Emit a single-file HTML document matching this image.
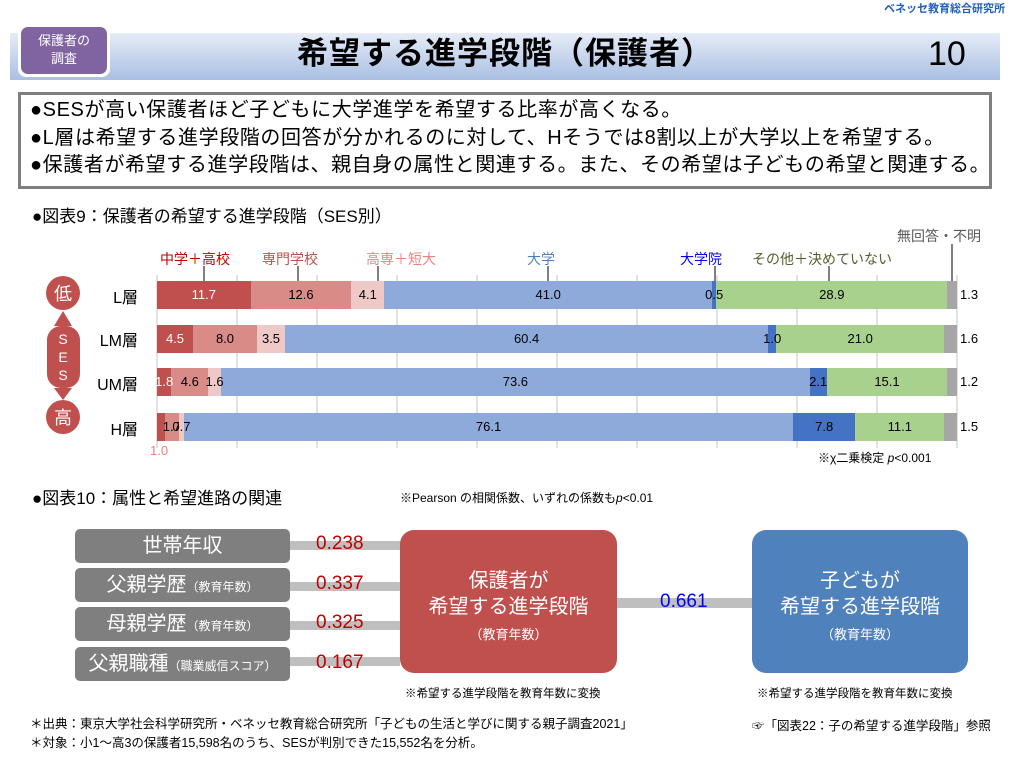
<!DOCTYPE html>
<html><head><meta charset="utf-8"><style>
*{margin:0;padding:0;box-sizing:border-box}
body{width:1010px;height:758px;background:#fff;position:relative;overflow:hidden;font-family:"Liberation Sans","Noto Sans CJK JP",sans-serif;color:#000}
.a{position:absolute;white-space:nowrap}
.seg{position:absolute;top:0;height:100%;font-size:13px;line-height:28px;text-align:center;overflow:visible;white-space:nowrap;display:flex;justify-content:center}
.z{z-index:3}
.row{position:absolute;left:157px;height:28px;width:800px}
.gb{position:absolute;left:75px;width:215px;height:34px;background:#7f7f7f;border-radius:5px;color:#fff;font-size:20px;line-height:34px;text-align:center}
.gb small{font-size:12px}
.ln{position:absolute;left:290px;width:110px;height:9px;background:#bfbfbf}
.v{position:absolute;left:316px;color:#c00000;font-size:19px}
</style></head><body>
<div class="a" style="right:5px;top:0;font-size:11px;color:#1f5fbf;font-weight:bold">ベネッセ教育総合研究所</div>
<div class="a" style="left:10px;top:33px;width:990px;height:47px;background:linear-gradient(#e6ecf7,#a9bfe3)"></div>
<div class="a" style="left:18px;top:24px;width:92px;height:53px;background:#fff;border-radius:8px"></div>
<div class="a" style="left:21px;top:27px;width:86px;height:47px;background:#8064a2;border-radius:7px;color:#fff;font-size:13px;text-align:center;line-height:18px;padding-top:5px;white-space:normal">保護者の<br>調査</div>
<div class="a" style="left:240px;top:33px;width:530px;text-align:center;font-size:31px;font-weight:bold;line-height:42px;letter-spacing:1px">希望する進学段階（保護者）</div>
<div class="a" style="left:928px;top:33px;font-size:34px;line-height:42px">10</div>
<div class="a" style="left:18px;top:92px;width:974px;height:97px;border:3px solid #7f7f7f"></div>
<div class="a" style="left:30px;top:97px;font-size:20px;line-height:27.5px;letter-spacing:0.6px">●SESが高い保護者ほど子どもに大学進学を希望する比率が高くなる。<br>●L層は希望する進学段階の回答が分かれるのに対して、Hそうでは8割以上が大学以上を希望する。<br>●保護者が希望する進学段階は、親自身の属性と関連する。また、その希望は子どもの希望と関連する。</div>
<div class="a" style="left:32px;top:202px;font-size:17px">●図表9：保護者の希望する進学段階（SES別）</div>
<svg class="a" style="left:0;top:0" width="1010" height="470">
<g stroke="#d9d9d9" stroke-width="1.5">
<line x1="157" y1="275" x2="157" y2="448"/><line x1="237" y1="275" x2="237" y2="448"/><line x1="317" y1="275" x2="317" y2="448"/><line x1="397" y1="275" x2="397" y2="448"/><line x1="477" y1="275" x2="477" y2="448"/><line x1="557" y1="275" x2="557" y2="448"/><line x1="637" y1="275" x2="637" y2="448"/><line x1="717" y1="275" x2="717" y2="448"/><line x1="797" y1="275" x2="797" y2="448"/><line x1="877" y1="275" x2="877" y2="448"/><line x1="957" y1="275" x2="957" y2="448"/>
</g>
<g stroke="#000" stroke-width="1">
<line x1="204" y1="266" x2="204" y2="281"/><line x1="298" y1="266" x2="298" y2="281"/><line x1="378" y1="266" x2="378" y2="281"/><line x1="548" y1="266" x2="548" y2="281"/><line x1="715" y1="266" x2="715" y2="281"/><line x1="829" y1="266" x2="829" y2="281"/><line x1="952" y1="244" x2="952" y2="281"/>
</g>
<circle cx="63" cy="293" r="17" fill="#c0504d"/><circle cx="63" cy="417" r="17" fill="#c0504d"/>
<rect x="47" y="326" width="33" height="62" rx="14" fill="#c0504d"/>
<polygon points="63,311 54,326 72,326" fill="#c0504d"/><polygon points="63,400 54,388 72,388" fill="#c0504d"/>
<text x="63" y="300" fill="#fff" font-size="18" text-anchor="middle" font-family="Noto Sans CJK JP">低</text>
<text x="63" y="424" fill="#fff" font-size="18" text-anchor="middle" font-family="Noto Sans CJK JP">高</text>
<text x="63" y="344" fill="#fff" font-size="14" text-anchor="middle">S</text><text x="63" y="362" fill="#fff" font-size="14" text-anchor="middle">E</text><text x="63" y="380" fill="#fff" font-size="14" text-anchor="middle">S</text>
</svg>
<div class="a" style="left:160px;top:249px;font-size:14px;color:#c00000">中学＋高校</div>
<div class="a" style="left:262px;top:249px;font-size:14px;color:#c0504d">専門学校</div>
<div class="a" style="left:366px;top:249px;font-size:14px;color:#f08080">高専＋短大</div>
<div class="a" style="left:527px;top:249px;font-size:14px;color:#4f81bd">大学</div>
<div class="a" style="left:680px;top:249px;font-size:14px;color:#0000ff">大学院</div>
<div class="a" style="left:752px;top:249px;font-size:14px;color:#4f6228">その他＋決めていない</div>
<div class="a" style="left:897px;top:226px;font-size:14px;color:#595959">無回答・不明</div>
<div class="a" style="left:88px;top:284px;font-size:16px;width:50px;text-align:right">L層</div>
<div class="a" style="left:88px;top:327px;font-size:16px;width:50px;text-align:right">LM層</div>
<div class="a" style="left:88px;top:371px;font-size:16px;width:50px;text-align:right">UM層</div>
<div class="a" style="left:88px;top:416px;font-size:16px;width:50px;text-align:right">H層</div>
<div class="row" style="top:281px">
<div class="seg" style="left:0;width:93.6px;background:#c0504d;color:#fff">11.7</div>
<div class="seg" style="left:93.6px;width:100.8px;background:#d98b88">12.6</div>
<div class="seg" style="left:194.4px;width:32.8px;background:#efc9c8">4.1</div>
<div class="seg" style="left:227.2px;width:328px;background:#8eaadb">41.0</div>
<div class="seg" style="left:559.2px;width:231.2px;background:#a9d18e">28.9</div>
<div class="seg z" style="left:555.2px;width:4px;background:#4472c4">0.5</div>
<div class="seg" style="left:790.4px;width:9.6px;background:#a6a6a6"></div>
</div>
<div class="row" style="top:325px">
<div class="seg" style="left:0;width:36px;background:#c0504d;color:#fff">4.5</div>
<div class="seg" style="left:36px;width:64px;background:#d98b88">8.0</div>
<div class="seg" style="left:100px;width:28px;background:#efc9c8">3.5</div>
<div class="seg" style="left:128px;width:483.2px;background:#8eaadb">60.4</div>
<div class="seg" style="left:619.2px;width:168px;background:#a9d18e">21.0</div>
<div class="seg z" style="left:611.2px;width:8px;background:#4472c4">1.0</div>
<div class="seg" style="left:787.2px;width:12.8px;background:#a6a6a6"></div>
</div>
<div class="row" style="top:368px">
<div class="seg" style="left:14.4px;width:36.8px;background:#d98b88">4.6</div>
<div class="seg z" style="left:0;width:14.4px;background:#c0504d;color:#fff">1.8</div>
<div class="seg" style="left:64px;width:588.8px;background:#8eaadb">73.6</div>
<div class="seg z" style="left:51.2px;width:12.8px;background:#efc9c8">1.6</div>
<div class="seg" style="left:652.8px;width:16.8px;background:#4472c4">2.1</div>
<div class="seg" style="left:669.6px;width:120.8px;background:#a9d18e">15.1</div>
<div class="seg" style="left:790.4px;width:9.6px;background:#a6a6a6"></div>
</div>
<div class="row" style="top:413px">
<div class="seg" style="left:0;width:8px;background:#c0504d"></div>
<div class="seg" style="left:27.2px;width:608.8px;background:#8eaadb">76.1</div>
<div class="seg z" style="left:8px;width:13.6px;background:#d98b88">1.7</div>
<div class="seg z" style="left:21.6px;width:5.6px;background:#efc9c8">0.7</div>
<div class="seg" style="left:636px;width:62.4px;background:#4472c4">7.8</div>
<div class="seg" style="left:698.4px;width:88.8px;background:#a9d18e">11.1</div>
<div class="seg" style="left:787.2px;width:12.8px;background:#a6a6a6"></div>
</div>
<div class="a" style="left:960px;top:287px;font-size:13px">1.3</div>
<div class="a" style="left:960px;top:331px;font-size:13px">1.6</div>
<div class="a" style="left:960px;top:374px;font-size:13px">1.2</div>
<div class="a" style="left:960px;top:419px;font-size:13px">1.5</div>
<div class="a" style="left:150px;top:443px;font-size:13px;color:#f08080">1.0</div>
<div class="a" style="left:818px;top:449px;font-size:12px">※χ二乗検定 <i>p</i>&lt;0.001</div>
<div class="a" style="left:32px;top:484px;font-size:17px">●図表10：属性と希望進路の関連</div>
<div class="a" style="left:400px;top:489px;font-size:12px">※Pearson の相関係数、いずれの係数も<i>p</i>&lt;0.01</div>
<div class="ln" style="top:541px"></div><div class="ln" style="top:582px"></div><div class="ln" style="top:621px"></div><div class="ln" style="top:657px"></div>
<div class="gb" style="top:529px">世帯年収</div>
<div class="gb" style="top:568px">父親学歴<small>（教育年数）</small></div>
<div class="gb" style="top:607px">母親学歴<small>（教育年数）</small></div>
<div class="gb" style="top:647px">父親職種<small>（職業威信スコア）</small></div>
<div class="v" style="top:533px">0.238</div><div class="v" style="top:573px">0.337</div><div class="v" style="top:612px">0.325</div><div class="v" style="top:652px">0.167</div>
<div class="a" style="left:610px;top:598px;width:150px;height:10px;background:#bfbfbf"></div>
<div class="a" style="left:660px;top:591px;font-size:19px;color:#0000ff">0.661</div>
<div class="a" style="left:400px;top:530px;width:217px;height:143px;background:#c0504d;border-radius:14px;color:#fff;text-align:center;padding-top:38px;font-size:20px;line-height:26px">保護者が<br>希望する進学段階<br><span style="font-size:13px;line-height:18px">（教育年数）</span></div>
<div class="a" style="left:752px;top:530px;width:216px;height:143px;background:#4f81bd;border-radius:14px;color:#fff;text-align:center;padding-top:38px;font-size:20px;line-height:26px">子どもが<br>希望する進学段階<br><span style="font-size:13px;line-height:18px">（教育年数）</span></div>
<div class="a" style="left:405px;top:685px;font-size:11.5px">※希望する進学段階を教育年数に変換</div>
<div class="a" style="left:757px;top:685px;font-size:11.5px">※希望する進学段階を教育年数に変換</div>
<div class="a" style="left:30px;top:715px;font-size:12.5px;line-height:19px">＊出典：東京大学社会科学研究所・ベネッセ教育総合研究所「子どもの生活と学びに関する親子調査2021」<br>＊対象：小1～高3の保護者15,598名のうち、SESが判別できた15,552名を分析。</div>
<div class="a" style="left:752px;top:715px;font-size:12.5px">☞「図表22：子の希望する進学段階」参照</div>
</body></html>
